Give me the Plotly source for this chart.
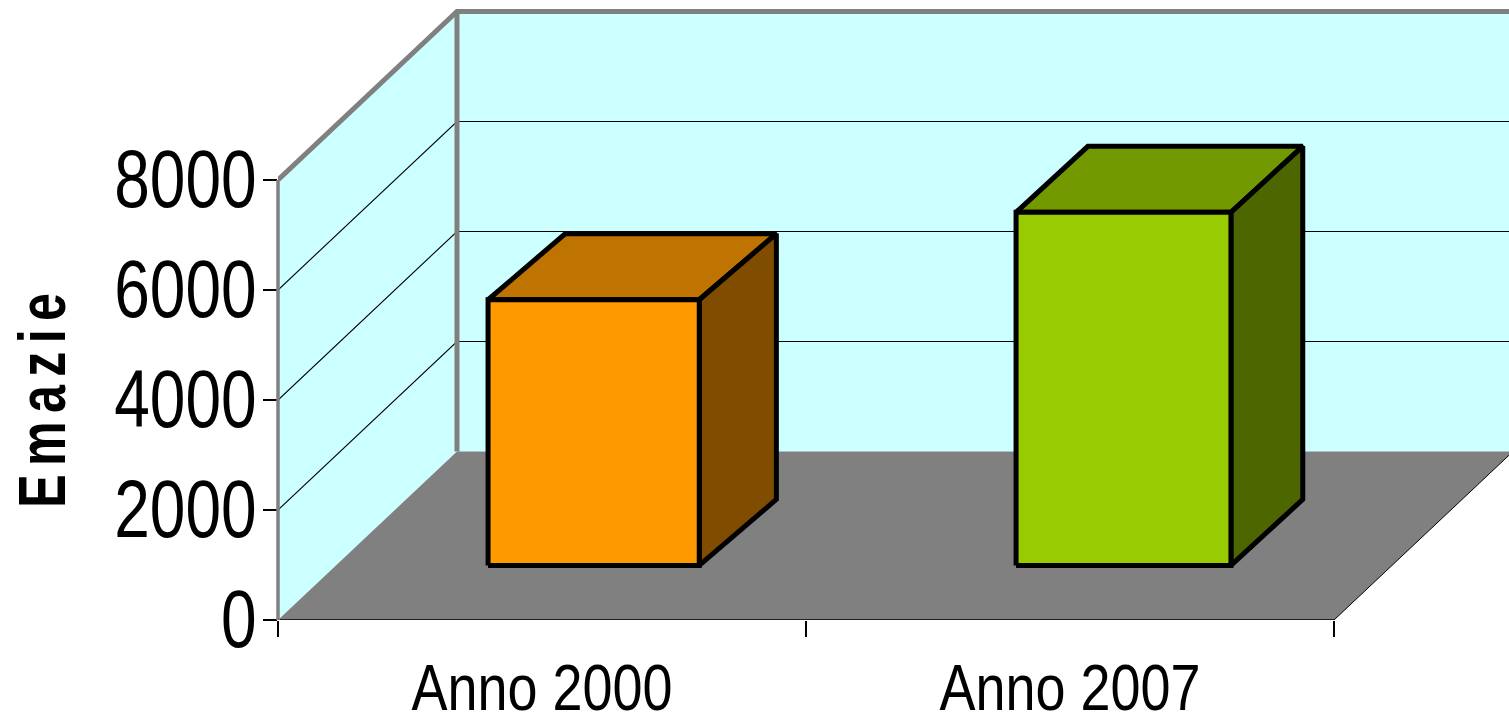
import plotly.graph_objects as go

# Chart data
categories = ["Anno 2000", "Anno 2007"]
emazie = [4830, 6420]
bar_colors = ["#FF9900", "#99CC00"]
top_colors = ["#BF7300", "#739900"]
side_colors = ["#804D00", "#4D6600"]
value_ticks = [0, 2000, 4000, 6000, 8000]
category_edges = [0, 1, 2]

# Oblique projection of the box, in axis units
WALL_MAX = 8000
DEPTH_X = 0.339
DEPTH_Y = 3064
BAR_LEFT = 0.288
BAR_WIDTHS = (0.4, 0.407)
BAR_FRONT = 0.324
BAR_DEPTH_XS = (0.146, 0.136)
BAR_DEPTH_Y = 1200

FONT = "Liberation Sans"
WALL = "#CCFFFF"
GREY = "#808080"
INK = "#000000"

fig = go.Figure()


def polygon(xs, ys, fill=None, color=None, width=0):
    fig.add_trace(go.Scatter(
        x=xs, y=ys, mode="lines", cliponaxis=False, showlegend=False, hoverinfo="skip",
        fill="toself" if fill else "none", fillcolor=fill,
        line=dict(color=color or "rgba(0,0,0,0)", width=width),
    ))


end = category_edges[-1]

# Side wall and back wall
polygon([0, 0, DEPTH_X, DEPTH_X], [0, WALL_MAX, WALL_MAX + DEPTH_Y, DEPTH_Y], fill=WALL)
polygon([DEPTH_X, DEPTH_X, end + DEPTH_X, end + DEPTH_X],
        [DEPTH_Y, WALL_MAX + DEPTH_Y, WALL_MAX + DEPTH_Y, DEPTH_Y], fill=WALL)

# Gridlines run along both walls
for v in value_ticks[1:-1]:
    polygon([0, DEPTH_X, end + DEPTH_X], [v, v + DEPTH_Y, v + DEPTH_Y], color=INK, width=1.1)

# Wall outline
polygon([0, DEPTH_X, end + DEPTH_X], [WALL_MAX, WALL_MAX + DEPTH_Y, WALL_MAX + DEPTH_Y],
        color=GREY, width=5)
polygon([DEPTH_X, DEPTH_X], [WALL_MAX + DEPTH_Y, DEPTH_Y], color=GREY, width=5)

# Floor
polygon([0, end, end + DEPTH_X, DEPTH_X], [0, 0, DEPTH_Y, DEPTH_Y], fill=GREY)
polygon([end, end + DEPTH_X], [0, DEPTH_Y], color=INK, width=1)
polygon([0, end], [0, 0], color=INK, width=1.5)

# Bars: front, top and side faces
base = BAR_FRONT * DEPTH_Y
for i, value in enumerate(emazie):
    x0 = i + BAR_LEFT + BAR_FRONT * DEPTH_X
    x1 = x0 + BAR_WIDTHS[i]
    dx = BAR_DEPTH_XS[i]
    top = base + value
    polygon([x0, x0 + dx, x1 + dx, x1, x0],
            [top, top + BAR_DEPTH_Y, top + BAR_DEPTH_Y, top, top],
            fill=top_colors[i], color=INK, width=5)
    polygon([x1, x1 + dx, x1 + dx, x1, x1],
            [base, base + BAR_DEPTH_Y, top + BAR_DEPTH_Y, top, base],
            fill=side_colors[i], color=INK, width=5)
    polygon([x0, x1, x1, x0, x0], [base, base, top, top, base],
            fill=bar_colors[i], color=INK, width=5)

# Front wall edge sits on the axis position, so it is kept free of the plot clip
fig.add_shape(type="line", xref="paper", yref="y", x0=0, x1=0, y0=0, y1=WALL_MAX,
              line=dict(color=GREY, width=3.5), layer="above")

fig.update_layout(
    width=1509, height=717,
    margin=dict(l=278, r=0, t=0, b=97, pad=0),
    paper_bgcolor="white", plot_bgcolor="white",
    showlegend=False,
    font=dict(family=FONT, color=INK),
    xaxis=dict(
        automargin=False,
        range=[0, 1231 / 528], showgrid=False, zeroline=False, showline=False,
        tickmode="array",
        tickvals=[i + 0.5 for i in range(len(categories))], ticktext=categories,
        ticks="", tickfont=dict(family=FONT, size=65, color=INK),
        ticklabelstandoff=24,
        minor=dict(tickmode="array", tickvals=category_edges, ticks="outside",
                   ticklen=16, tickwidth=1.5, tickcolor=INK, showgrid=False),
    ),
    yaxis=dict(
        automargin=False,
        range=[0, 620 / 0.055], showgrid=False, zeroline=False, showline=False,
        tickmode="array", tickvals=value_ticks, tickformat="d",
        ticks="outside", ticklen=14, tickwidth=1.5, tickcolor=INK,
        tickfont=dict(family=FONT, size=82, color=INK),
        ticklabelstandoff=-10, ticklabelshift=-2,
    ),
    annotations=[dict(
        text='<b><span style="letter-spacing:11px">Emazie</span></b>',
        xref="paper", yref="paper",
        x=-236 / 1231, y=(717 - 97 - 397) / 620,
        xanchor="center", yanchor="middle",
        showarrow=False, textangle=-90,
        font=dict(family=FONT, size=66, color=INK),
    )],
)

# No narrow face is installed, so the labels are condensed with SVG textLength
CONDENSE = """
[['.xtick text', 0.83], ['.ytick text', 0.78], ['.annotation-text', 0.76]].forEach(function (rule) {
  document.querySelectorAll(rule[0]).forEach(function (t) {
    t.setAttribute('textLength', t.getComputedTextLength() * rule[1]);
    t.setAttribute('lengthAdjust', 'spacingAndGlyphs');
  });
});
"""

fig.write_html("out.html", config=dict(displayModeBar=False), post_script=CONDENSE)
